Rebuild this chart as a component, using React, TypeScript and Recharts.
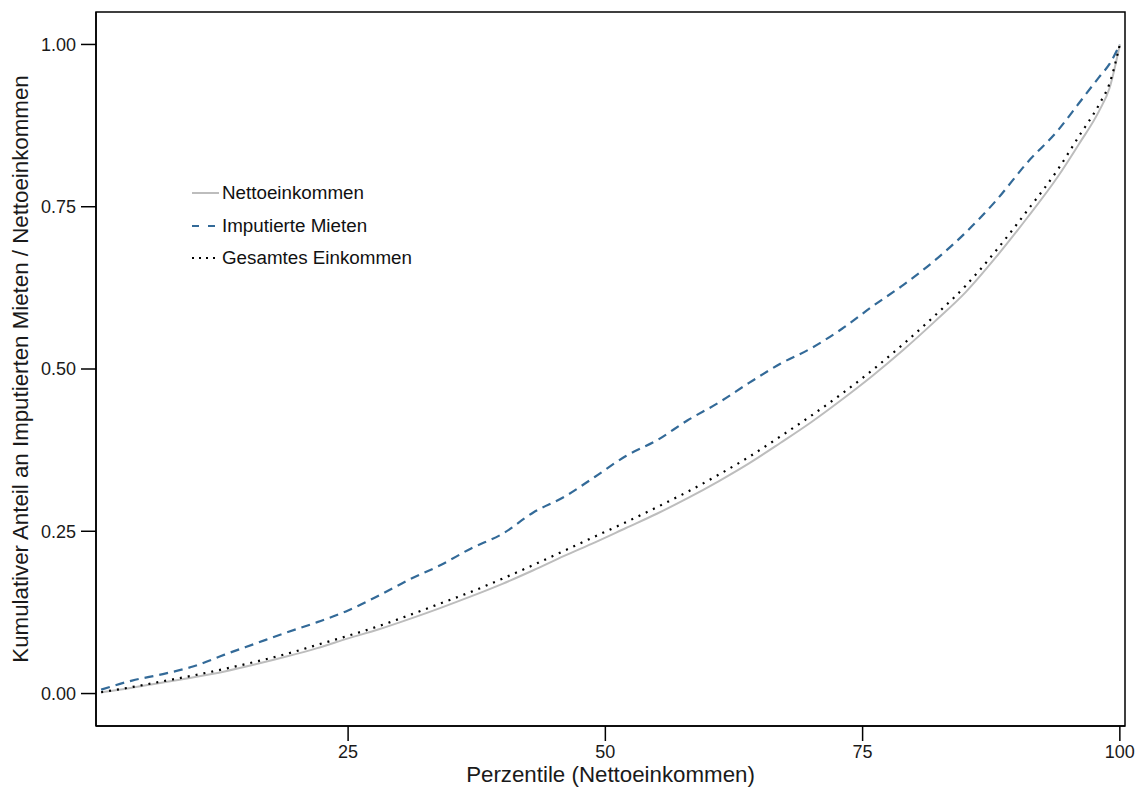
import { Legend, Line, LineChart, ReferenceArea, XAxis, YAxis } from 'recharts';

const percentiles = [1, 4, 7, 10, 13, 16, 19, 22, 25, 28, 31, 34, 37, 40, 43, 46, 49, 52, 55, 58, 61, 64, 67, 70, 73, 76, 79, 82, 85, 88, 91, 94, 96, 98, 99, 100];

const nettoeinkommen = [0.002, 0.009, 0.017, 0.025, 0.034, 0.045, 0.057, 0.07, 0.085, 0.099, 0.115, 0.132, 0.15, 0.169, 0.19, 0.212, 0.233, 0.255, 0.277, 0.301, 0.327, 0.355, 0.386, 0.418, 0.453, 0.49, 0.53, 0.573, 0.618, 0.673, 0.733, 0.797, 0.846, 0.898, 0.933, 1.0];

const imputierteMieten = [0.006, 0.02, 0.03, 0.042, 0.06, 0.077, 0.094, 0.11, 0.128, 0.151, 0.176, 0.198, 0.224, 0.246, 0.279, 0.303, 0.334, 0.366, 0.39, 0.421, 0.448, 0.479, 0.508, 0.532, 0.562, 0.597, 0.63, 0.667, 0.71, 0.76, 0.818, 0.868, 0.909, 0.95, 0.97, 1.0];

const gesamtesEinkommen = [0.002, 0.01, 0.019, 0.028, 0.038, 0.049, 0.061, 0.075, 0.089, 0.104, 0.121, 0.139, 0.157, 0.177, 0.198, 0.22, 0.242, 0.264, 0.287, 0.311, 0.337, 0.365, 0.396, 0.428, 0.462, 0.499, 0.539, 0.582, 0.628, 0.683, 0.744, 0.808, 0.858, 0.908, 0.94, 1.0];

const xTicks = [25, 50, 75, 100];
const yTicks = [0, 0.25, 0.5, 0.75, 1];

const FONT = '"Liberation Sans", Arial, sans-serif';
const X_DOMAIN: [number, number] = [0.5, 100.5];
const Y_DOMAIN: [number, number] = [-0.05, 1.05];

const series = [
  { key: 'netto', name: 'Nettoeinkommen', color: '#bdbdbd', dash: undefined as string | undefined, width: 2 },
  { key: 'mieten', name: 'Imputierte Mieten', color: '#336a98', dash: '9 6', width: 2.2 },
  { key: 'gesamt', name: 'Gesamtes Einkommen', color: '#000000', dash: '2 6', width: 2.2 },
];

const data = percentiles.map((p, i) => ({
  p,
  netto: nettoeinkommen[i],
  mieten: imputierteMieten[i],
  gesamt: gesamtesEinkommen[i],
}));

const legendKeyDash: Record<string, string | undefined> = { netto: undefined, mieten: '7 9', gesamt: '2 5' };

const renderLegend = () => (
  <div style={{ fontFamily: FONT, fontSize: 18.8, color: '#111' }}>
    {series.map((s) => (
      <div key={s.key} style={{ display: 'flex', alignItems: 'center', height: 32.5 }}>
        <svg width={28} height={10} style={{ marginRight: 2 }}>
          <line x1={0} y1={5} x2={27} y2={5} stroke={s.color} strokeWidth={2} strokeDasharray={legendKeyDash[s.key]} />
        </svg>
        <span>{s.name}</span>
      </div>
    ))}
  </div>
);

export default function App() {
  return (
    <div style={{ position: 'absolute', left: 0, top: 0, width: 1138, height: 794 }}>
      <LineChart width={1138} height={794} data={data} margin={{ top: 12, right: 13, bottom: 0, left: 0 }}>
        <XAxis
          dataKey="p"
          type="number"
          domain={X_DOMAIN}
          ticks={xTicks}
          height={68}
          tickSize={15}
          tickMargin={4}
          stroke="#000"
          strokeWidth={1.5}
          tick={{ fill: '#1a1a1a', fontSize: 18, fontFamily: FONT }}
          label={{ value: 'Perzentile (Nettoeinkommen)', position: 'insideBottom', offset: 12, fill: '#1a1a1a', fontSize: 22.3, fontFamily: FONT }}
        />
        <YAxis
          type="number"
          domain={Y_DOMAIN}
          ticks={yTicks}
          width={96}
          tickSize={15}
          tickMargin={5}
          stroke="#000"
          strokeWidth={1.5}
          tickFormatter={(v: number) => v.toFixed(2)}
          tick={{ fill: '#1a1a1a', fontSize: 18, fontFamily: FONT }}
          label={{
            value: 'Kumulativer Anteil an Imputierten Mieten / Nettoeinkommen',
            angle: -90,
            position: 'insideLeft',
            offset: 20,
            fill: '#1a1a1a',
            fontSize: 22.3,
            fontFamily: FONT,
            style: { textAnchor: 'middle' },
          }}
        />
        <ReferenceArea x1={X_DOMAIN[0]} x2={X_DOMAIN[1]} y1={Y_DOMAIN[0]} y2={Y_DOMAIN[1]} fill="none" fillOpacity={0} stroke="#000" strokeWidth={1.5} />
        <Legend
          content={renderLegend}
          layout="vertical"
          align="center"
          verticalAlign="middle"
          wrapperStyle={{ left: 192, top: 177, width: 260 }}
        />
        {series.map((s) => (
          <Line
            key={s.key}
            dataKey={s.key}
            name={s.name}
            type="monotone"
            stroke={s.color}
            strokeWidth={s.width}
            strokeDasharray={s.dash}
            dot={false}
            activeDot={false}
            isAnimationActive={false}
          />
        ))}
      </LineChart>
    </div>
  );
}
